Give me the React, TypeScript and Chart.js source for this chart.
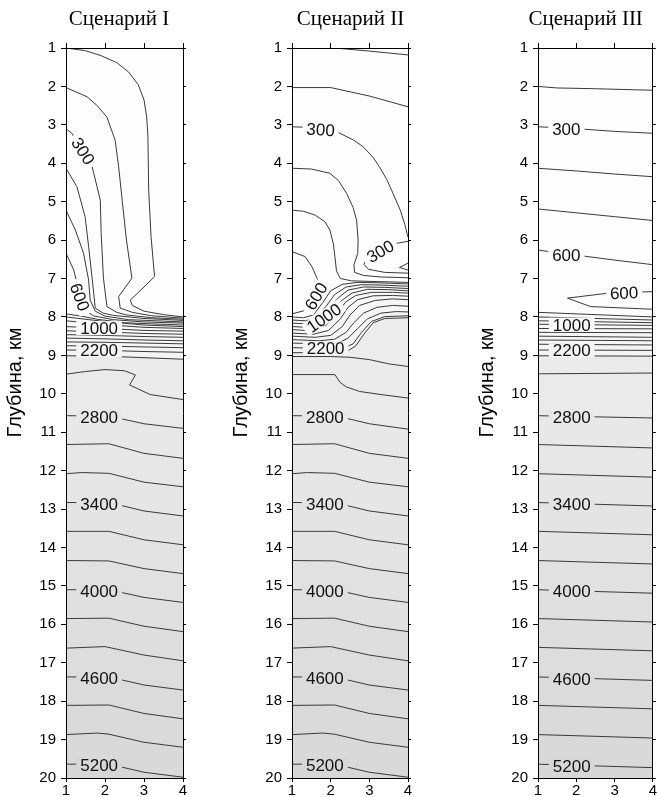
import React, { useEffect, useRef } from "react";
import { Chart, registerables } from "chart.js";

Chart.register(...registerables);

// ---------- text ----------
const scenarioTitles = ["Сценарий I", "Сценарий II", "Сценарий III"];
const depthAxisTitle = "Глубина, км";

// ---------- axes ----------
const xRange = [1, 4];
const depthRange = [1, 20];

// ---------- Scenario I contours (x, depth km) ----------
const s1Levels = [100, 200, 300, 400, 500, 600, 700, 800, 900, 1000, 1200, 1400, 1600, 1800, 2000, 2200, 2400, 2600, 2800];
const s1Lines: number[][][] = [
  [[1, 1.0], [1.5, 1.07], [1.9, 1.2], [2.3, 1.38], [2.6, 1.62], [2.85, 1.95], [3.0, 2.35], [3.07, 2.8], [3.1, 3.3], [3.12, 4.7], [3.18, 5.9], [3.27, 6.95], [2.95, 7.27], [2.65, 7.56], [2.7, 7.7], [3.0, 7.85], [3.5, 7.94], [4, 8.0]],
  [[1, 2.03], [1.54, 2.27], [1.8, 2.5], [2.05, 2.8], [2.26, 3.4], [2.35, 4.09], [2.44, 4.96], [2.55, 6.0], [2.69, 6.99], [2.35, 7.47], [2.39, 7.77], [2.7, 7.88], [3.2, 7.97], [4, 8.03]],
  [[1, 3.1], [1.15, 3.22], [1.44, 3.7], [1.67, 4.09], [1.88, 4.96], [1.9, 5.8], [1.96, 6.99], [2.05, 7.73], [2.3, 7.88], [2.56, 7.95], [3.2, 8.02], [4, 8.06]],
  [[1, 4.13], [1.28, 4.61], [1.49, 5.39], [1.58, 6.17], [1.67, 6.99], [1.75, 7.77], [1.95, 7.9], [2.22, 7.96], [3, 8.04], [4, 8.09]],
  [[1, 5.22], [1.24, 5.74], [1.45, 6.34], [1.58, 7.04], [1.62, 7.56], [1.75, 7.85], [2.0, 7.98], [2.6, 8.07], [4, 8.13]],
  [[1, 6.34], [1.2, 6.78], [1.37, 7.5], [1.48, 7.82], [1.7, 7.97], [2.2, 8.07], [3, 8.13], [4, 8.16]],
  [[1, 7.92], [1.4, 7.98], [1.8, 8.06], [2.5, 8.15], [3.2, 8.18], [4, 8.21]],
  [[1, 8.0], [2, 8.12], [3, 8.21], [4, 8.25]],
  [[1, 8.1], [2, 8.2], [3, 8.27], [4, 8.3]],
  [[1, 8.25], [2, 8.3], [3, 8.35], [4, 8.37]],
  [[1, 8.36], [2, 8.39], [3, 8.43], [4, 8.45]],
  [[1, 8.46], [2, 8.48], [3, 8.51], [4, 8.53]],
  [[1, 8.55], [2, 8.57], [3, 8.6], [4, 8.62]],
  [[1, 8.65], [2, 8.66], [3, 8.68], [4, 8.7]],
  [[1, 8.75], [2, 8.76], [3, 8.78], [4, 8.8]],
  [[1, 8.86], [2, 8.87], [3, 8.9], [4, 8.92]],
  [[1, 9.01], [2, 9.02], [3, 9.06], [4, 9.1]],
  [[1, 9.49], [1.5, 9.42], [2, 9.37], [2.5, 9.4], [2.78, 9.51], [2.63, 9.77], [3.16, 10.02], [4, 10.15]],
  [[1, 10.57], [2.1, 10.58], [3, 10.78], [4, 10.9]],
];

// ---------- Scenario II contours ----------
const s2Levels = [100, 200, 300, 300, 300, 400, 500, 600, 700, 800, 900, 1000, 1200, 1400, 1600, 1800, 2000, 2200, 2300, 2400, 2600, 2800];
const s2Lines: number[][][] = [
  [[1, 1.0], [2.1, 1.0], [3, 1.08], [4, 1.18]],
  [[1, 2.03], [2, 2.03], [3, 2.25], [4, 2.53]],
  [[1, 3.05], [1.5, 3.07], [2.0, 3.12], [2.24, 3.22], [2.6, 3.4], [2.84, 3.57], [3.1, 3.85], [3.26, 4.09], [3.45, 4.42], [3.61, 4.78], [3.8, 5.22], [3.92, 5.6], [3.98, 5.85], [4, 5.92]],
  [[4, 6.03], [3.73, 6.08], [3.5, 6.17], [3.28, 6.29], [3.05, 6.42], [2.92, 6.52], [2.86, 6.63], [2.98, 6.76], [3.4, 6.84], [4, 6.86]],
  [[4, 6.6], [3.78, 6.71], [4, 6.78]],
  [[1, 4.13], [1.5, 4.15], [1.98, 4.26], [2.2, 4.45], [2.41, 4.78], [2.58, 5.15], [2.67, 5.48], [2.71, 6.0], [2.7, 6.35], [2.6, 6.65], [2.62, 6.84], [2.85, 6.92], [3.3, 6.96], [4, 6.98]],
  [[1, 5.22], [1.3, 5.25], [1.6, 5.35], [1.85, 5.52], [1.98, 5.74], [2.07, 6.1], [2.11, 6.43], [2.15, 6.8], [2.25, 7.0], [2.54, 7.06], [3.2, 7.08], [4, 7.1]],
  [[1, 6.3], [1.34, 6.43], [1.52, 6.7], [1.65, 7.0], [1.75, 7.22], [1.62, 7.46], [1.48, 7.68], [1.3, 7.84], [1, 7.92]],
  [[1, 8.0], [1.3, 8.02], [1.55, 7.95], [1.8, 7.62], [2.0, 7.32], [2.3, 7.15], [2.7, 7.1], [3.2, 7.11], [4, 7.14]],
  [[1, 8.08], [1.35, 8.1], [1.65, 8.02], [1.9, 7.7], [2.1, 7.42], [2.4, 7.22], [2.8, 7.16], [3.3, 7.17], [4, 7.2]],
  [[1, 8.16], [1.4, 8.18], [1.7, 8.1], [1.95, 7.8], [2.2, 7.5], [2.45, 7.3], [2.85, 7.22], [3.4, 7.23], [4, 7.26]],
  [[1, 8.25], [1.4, 8.27], [1.82, 8.0], [2.05, 7.78], [2.3, 7.56], [2.55, 7.38], [2.95, 7.28], [3.5, 7.29], [4, 7.32]],
  [[1, 8.33], [1.5, 8.36], [1.9, 8.2], [2.2, 7.85], [2.4, 7.6], [2.65, 7.44], [3.05, 7.36], [3.6, 7.36], [4, 7.38]],
  [[1, 8.42], [1.55, 8.45], [1.95, 8.35], [2.25, 8.05], [2.45, 7.75], [2.7, 7.55], [3.1, 7.45], [3.6, 7.44], [4, 7.46]],
  [[1, 8.5], [1.6, 8.53], [2.0, 8.48], [2.3, 8.25], [2.5, 7.95], [2.75, 7.7], [3.15, 7.57], [3.6, 7.53], [4, 7.55]],
  [[1, 8.59], [1.7, 8.62], [2.1, 8.58], [2.4, 8.4], [2.6, 8.15], [2.85, 7.9], [3.2, 7.75], [3.6, 7.7], [4, 7.72]],
  [[1, 8.68], [1.8, 8.7], [2.2, 8.68], [2.45, 8.55], [2.7, 8.3], [2.95, 8.05], [3.3, 7.9], [3.7, 7.86], [4, 7.87]],
  [[1, 8.8], [1.87, 8.82], [2.35, 8.8], [2.58, 8.7], [2.8, 8.4], [3.05, 8.12], [3.4, 7.99], [4, 7.97]],
  [[1, 8.93], [2.0, 8.93], [2.45, 8.88], [2.65, 8.75], [2.88, 8.42], [3.1, 8.15], [3.4, 8.04], [4, 8.02]],
  [[1, 9.03], [2.0, 9.03], [2.5, 9.05], [3, 9.11], [3.5, 9.22], [4, 9.29]],
  [[1, 9.5], [2.11, 9.5], [2.24, 9.7], [2.4, 9.82], [2.75, 9.94], [3.3, 10.02], [4, 10.11]],
  [[1, 10.57], [2.1, 10.58], [2.5, 10.66], [3, 10.78], [4, 10.92]],
];

// ---------- Scenario III contours ----------
const s3Levels = [200, 300, 400, 500, 600, 600, 700, 800, 900, 1000, 1200, 1400, 1600, 1800, 2000, 2200, 2400, 2600, 2800];
const s3Lines: number[][][] = [
  [[1, 2.0], [1.5, 2.04], [2.5, 2.06], [4, 2.1]],
  [[1, 3.05], [2, 3.1], [3, 3.17], [4, 3.22]],
  [[1, 4.13], [2, 4.2], [3, 4.28], [4, 4.35]],
  [[1, 5.19], [2, 5.29], [3, 5.39], [4, 5.49]],
  [[1, 6.26], [2, 6.39], [3, 6.52], [4, 6.64]],
  [[4, 7.34], [2.84, 7.38], [1.77, 7.51], [2.37, 7.73], [4, 7.8]],
  [[1, 7.88], [4, 8.0]],
  [[1, 8.0], [4, 8.08]],
  [[1, 8.1], [4, 8.15]],
  [[1, 8.19], [4, 8.22]],
  [[1, 8.3], [4, 8.31]],
  [[1, 8.4], [4, 8.41]],
  [[1, 8.5], [4, 8.53]],
  [[1, 8.6], [4, 8.62]],
  [[1, 8.71], [4, 8.73]],
  [[1, 8.86], [4, 8.87]],
  [[1, 9.01], [4, 9.02]],
  [[1, 9.48], [4, 9.46]],
  [[1, 10.57], [4, 10.63]],
];

// ---------- deep contours ----------
const deepLevels = [3000, 3200, 3400, 3600, 3800, 4000, 4200, 4400, 4600, 4800, 5000, 5200];
const deepLinesSloped: number[][][] = [
  [[1, 11.32], [2.1, 11.3], [3, 11.55], [4, 11.68]],
  [[1, 12.08], [1.4, 12.05], [2.1, 12.07], [3, 12.3], [4, 12.42]],
  [[1, 12.83], [2.1, 12.83], [3, 13.05], [4, 13.18]],
  [[1, 13.58], [2.1, 13.58], [3, 13.8], [4, 13.93]],
  [[1, 14.34], [2.1, 14.35], [3, 14.55], [4, 14.68]],
  [[1, 15.1], [2.1, 15.1], [3, 15.3], [4, 15.43]],
  [[1, 15.85], [2.1, 15.84], [3, 16.05], [4, 16.19]],
  [[1, 16.62], [2, 16.58], [3, 16.8], [4, 16.95]],
  [[1, 17.37], [2.1, 17.37], [3, 17.58], [4, 17.71]],
  [[1, 18.11], [2.1, 18.1], [3, 18.32], [4, 18.46]],
  [[1, 18.87], [1.8, 18.83], [2.1, 18.86], [3, 19.07], [4, 19.2]],
  [[1, 19.64], [2.1, 19.64], [3, 19.85], [4, 19.98]],
];
const deepLinesFlat: number[][][] = [
  [[1, 11.32], [4, 11.41]],
  [[1, 12.08], [4, 12.17]],
  [[1, 12.83], [4, 12.92]],
  [[1, 13.58], [4, 13.67]],
  [[1, 14.34], [4, 14.43]],
  [[1, 15.1], [4, 15.19]],
  [[1, 15.85], [4, 15.94]],
  [[1, 16.6], [4, 16.69]],
  [[1, 17.37], [4, 17.46]],
  [[1, 18.11], [4, 18.2]],
  [[1, 18.87], [4, 18.96]],
  [[1, 19.64], [4, 19.73]],
];

// ---------- contour labels (text, and where they sit in x/depth) ----------
const s1LabelTexts = ["300", "600", "1000", "2200", "2800", "3400", "4000", "4600", "5200"];
const s1LabelPoints = [[1.44, 3.68], [1.36, 7.48], [1.85, 8.29], [1.85, 8.87], [1.85, 10.6], [1.85, 12.86], [1.85, 15.12], [1.85, 17.4], [1.85, 19.66]];
const s2LabelTexts = ["300", "300", "600", "1000", "2200", "2800", "3400", "4000", "4600", "5200"];
const s2LabelPoints = [[1.74, 3.12], [3.28, 6.29], [1.62, 7.46], [1.82, 8.02], [1.87, 8.82], [1.85, 10.6], [1.85, 12.86], [1.85, 15.12], [1.85, 17.4], [1.85, 19.66]];
const s3LabelTexts = ["300", "600", "600", "1000", "2200", "2800", "3400", "4000", "4600", "5200"];
const s3LabelPoints = [[1.74, 3.1], [1.74, 6.38], [3.25, 7.37], [1.88, 8.2], [1.88, 8.87], [1.88, 10.6], [1.88, 12.87], [1.88, 15.13], [1.88, 17.42], [1.88, 19.68]];

// label rotation (degrees) — style
const s1LabelAngles = [57, 70, 0, 0, 0, 0, 0, 0, 0];
const s2LabelAngles = [4, -30, -60, -35, 0, 0, 0, 0, 0, 0];
const s3LabelAngles = [0, 0, -2, 0, 0, 0, 0, 0, 0, 0];

// ---------- layout & style ----------
const SANS = '"Liberation Sans", Arial, sans-serif';
const SERIF = '"Liberation Serif", "Times New Roman", serif';
const LINE_COLOR = "#3a3a3a";
const AREA_BG = "#fdfdfd";
const CANVAS_H = 797;
const TOP_H = 48;
const BOTTOM_H = 19;

const panelLayout = [
  { left: 0, width: 190, axisWidth: 66, rightWidth: 7, titleX: 119 },
  { left: 200, width: 215, axisWidth: 92, rightWidth: 7, titleX: 350.5 },
  { left: 430, width: 227, axisWidth: 108, rightWidth: 2, titleX: 585.7 },
];

function shade(level: number): string {
  const g = level >= 2300 ? 236 - (level - 2300) * 0.0072 : 252 - level * 0.0035;
  const v = Math.round(g);
  return `rgb(${v},${v},${v})`;
}

function makeChart(
  canvas: HTMLCanvasElement,
  levels: number[],
  lines: number[][][],
  labelTexts: string[],
  labelPoints: number[][],
  labelAngles: number[],
  title: string,
  layout: { left: number; width: number; axisWidth: number; rightWidth: number; titleX: number }
) {
  const datasets = levels.map((lv, i) => ({
    data: lines[i].map(([x, y]) => ({ x, y })),
    borderColor: LINE_COLOR,
    borderWidth: 1,
    pointRadius: 0,
    pointHoverRadius: 0,
    tension: 0,
    fill: lv >= 700 ? "start" : false,
    backgroundColor: shade(lv),
    order: -lv * 100 - i,
  }));

  const decor = {
    id: "decor",
    beforeDatasetsDraw(chart: any) {
      const { ctx, chartArea } = chart;
      ctx.save();
      ctx.fillStyle = AREA_BG;
      ctx.fillRect(chartArea.left, chartArea.top, chartArea.right - chartArea.left, chartArea.bottom - chartArea.top);
      ctx.restore();
    },
    afterDatasetsDraw(chart: any) {
      const { ctx, chartArea } = chart;
      const xs = chart.scales.x;
      const ys = chart.scales.y;
      ctx.save();
      ctx.beginPath();
      ctx.rect(chartArea.left, chartArea.top, chartArea.right - chartArea.left, chartArea.bottom - chartArea.top);
      ctx.clip();
      ctx.font = `17px ${SANS}`;
      ctx.textAlign = "center";
      ctx.textBaseline = "alphabetic";
      labelTexts.forEach((text, i) => {
        const [vx, vy] = labelPoints[i];
        const lv = parseInt(text, 10);
        const px = xs.getPixelForValue(vx);
        const py = ys.getPixelForValue(vy);
        const w = ctx.measureText(text).width + 8;
        ctx.save();
        ctx.translate(px, py);
        ctx.rotate((labelAngles[i] * Math.PI) / 180);
        ctx.fillStyle = lv >= 700 ? shade(lv) : AREA_BG;
        ctx.fillRect(-w / 2, -7, w, 14);
        ctx.fillStyle = "#111";
        ctx.fillText(text, 0, 6);
        ctx.restore();
      });
      ctx.restore();
    },
    afterDraw(chart: any) {
      const { ctx, chartArea } = chart;
      ctx.save();
      ctx.fillStyle = "#000";
      ctx.font = `21px ${SERIF}`;
      ctx.textAlign = "center";
      ctx.textBaseline = "alphabetic";
      ctx.fillText(title, layout.titleX - layout.left, 25);
      ctx.font = `20px ${SANS}`;
      ctx.translate(chartArea.left - 51, 382.5);
      ctx.rotate(-Math.PI / 2);
      ctx.textBaseline = "middle";
      ctx.fillText(depthAxisTitle, 0, 0);
      ctx.restore();
    },
  };

  const tickFont = { family: SANS, size: 15 };
  const border = { display: true, color: "#000", width: 1, z: 1 };

  return new Chart(canvas, {
    type: "line",
    data: { datasets: datasets as any },
    options: {
      responsive: false,
      animation: false,
      events: [],
      layout: { padding: 0 },
      plugins: { legend: { display: false }, tooltip: { enabled: false }, title: { display: false } },
      scales: {
        x: {
          type: "linear",
          position: "bottom",
          min: xRange[0],
          max: xRange[1],
          ticks: { stepSize: 1, font: tickFont, color: "#000", padding: 0, maxRotation: 0 },
          grid: { drawOnChartArea: false, tickLength: 4, color: "#000", z: 1 },
          border,
          afterFit: (s: any) => {
            s.height = BOTTOM_H;
          },
        },
        xTop: {
          type: "linear",
          axis: "x",
          position: "top",
          min: xRange[0],
          max: xRange[1],
          ticks: { display: false, stepSize: 1 },
          grid: { drawOnChartArea: false, tickLength: 5, color: "#000", z: 1 },
          border,
          afterFit: (s: any) => {
            s.height = TOP_H;
          },
        },
        y: {
          type: "linear",
          position: "left",
          reverse: true,
          min: depthRange[0],
          max: depthRange[1],
          ticks: { stepSize: 1, autoSkip: false, font: tickFont, color: "#000", padding: 5 },
          grid: { drawOnChartArea: false, tickLength: 5, color: "#000", z: 1 },
          border,
          afterFit: (s: any) => {
            s.width = layout.axisWidth;
          },
        },
        yRight: {
          type: "linear",
          axis: "y",
          position: "right",
          reverse: true,
          min: depthRange[0],
          max: depthRange[1],
          ticks: { display: false, stepSize: 1 },
          grid: { drawOnChartArea: false, tickLength: 3, color: "#000", z: 1 },
          border,
          afterFit: (s: any) => {
            s.width = layout.rightWidth;
          },
        },
      } as any,
    },
    plugins: [decor as any],
  });
}

export default function App() {
  const c1 = useRef<HTMLCanvasElement>(null);
  const c2 = useRef<HTMLCanvasElement>(null);
  const c3 = useRef<HTMLCanvasElement>(null);

  useEffect(() => {
    const charts = [
      makeChart(c1.current!, [...s1Levels, ...deepLevels], [...s1Lines, ...deepLinesSloped], s1LabelTexts, s1LabelPoints, s1LabelAngles, scenarioTitles[0], panelLayout[0]),
      makeChart(c2.current!, [...s2Levels, ...deepLevels], [...s2Lines, ...deepLinesSloped], s2LabelTexts, s2LabelPoints, s2LabelAngles, scenarioTitles[1], panelLayout[1]),
      makeChart(c3.current!, [...s3Levels, ...deepLevels], [...s3Lines, ...deepLinesFlat], s3LabelTexts, s3LabelPoints, s3LabelAngles, scenarioTitles[2], panelLayout[2]),
    ];
    return () => charts.forEach((c) => c.destroy());
  }, []);

  const refs = [c1, c2, c3];
  return (
    <div style={{ position: "absolute", left: 0, top: 0, width: 657, height: CANVAS_H, overflow: "hidden", background: "#fff" }}>
      {panelLayout.map((p, i) => (
        <canvas
          key={i}
          ref={refs[i]}
          width={p.width}
          height={CANVAS_H}
          style={{ position: "absolute", left: p.left, top: 0, width: p.width, height: CANVAS_H }}
        />
      ))}
    </div>
  );
}
